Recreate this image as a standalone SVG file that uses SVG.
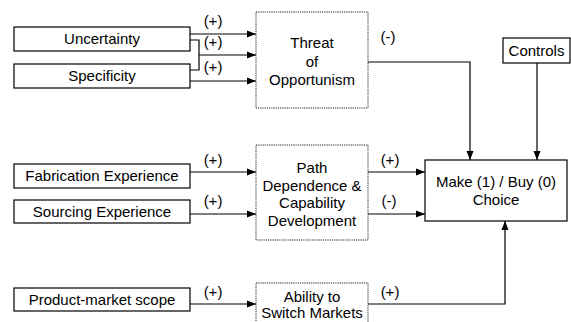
<svg xmlns="http://www.w3.org/2000/svg" width="571" height="322" viewBox="0 0 571 322">
<style>
text{font-family:"Liberation Sans",Arial,sans-serif;font-size:15px;fill:#000;text-anchor:middle}
.box{fill:#fff;stroke:#000;stroke-width:1.2}
.dot{fill:#fff;stroke:#222;stroke-width:1;stroke-dasharray:1.2,1}
.ln{fill:none;stroke:#000;stroke-width:1.2}
.ar{fill:none;stroke:#000;stroke-width:1.2;marker-end:url(#ah)}
.lbl{font-size:15px}
</style>
<defs>
<marker id="ah" markerWidth="9" markerHeight="8" refX="9" refY="4" orient="auto" markerUnits="userSpaceOnUse">
<path d="M0,0.5 L9,4 L0,7.5 Z" fill="#000"/>
</marker>
</defs>
<rect width="571" height="322" fill="#fff"/>
<g id="connectors">
<line class="ar" x1="190" y1="34" x2="256" y2="34"/>
<polyline class="ln" points="190,40 199,40 199,70 190,70"/>
<line class="ar" x1="199" y1="55" x2="256" y2="55"/>
<line class="ar" x1="190" y1="81" x2="256" y2="81"/>
<polyline class="ar" points="368,62 470,62 470,160"/>
<line class="ar" x1="537" y1="63" x2="537" y2="160"/>
<line class="ar" x1="190" y1="172" x2="256" y2="172"/>
<line class="ar" x1="190" y1="214" x2="256" y2="214"/>
<line class="ar" x1="368" y1="172" x2="425" y2="172"/>
<line class="ar" x1="368" y1="214" x2="425" y2="214"/>
<line class="ar" x1="190" y1="304" x2="256" y2="304"/>
<polyline class="ar" points="368,304 505,304 505,221"/>
<text class="lbl" x="213" y="26">(+)</text>
<text class="lbl" x="213" y="47">(+)</text>
<text class="lbl" x="213" y="72">(+)</text>
<text class="lbl" x="388" y="42">(-)</text>
<text class="lbl" x="213" y="165">(+)</text>
<text class="lbl" x="213" y="206">(+)</text>
<text class="lbl" x="390" y="165">(+)</text>
<text class="lbl" x="389" y="206">(-)</text>
<text class="lbl" x="213" y="297">(+)</text>
<text class="lbl" x="390" y="297">(+)</text>
</g>
<g id="uncertainty">
<rect class="box" x="14" y="27" width="176" height="24"/>
<text x="102" y="44">Uncertainty</text>
</g>
<g id="specificity">
<rect class="box" x="14" y="64" width="176" height="24"/>
<text x="102" y="81">Specificity</text>
</g>
<g id="threat">
<rect class="dot" x="256" y="12" width="112" height="96"/>
<text x="312" y="48">Threat</text>
<text x="312" y="67">of</text>
<text x="312" y="85">Opportunism</text>
</g>
<g id="controls">
<rect class="box" x="503" y="38" width="67" height="25"/>
<text x="536.5" y="56">Controls</text>
</g>
<g id="fabrication">
<rect class="box" x="14" y="164" width="176" height="24"/>
<text x="102" y="181">Fabrication Experience</text>
</g>
<g id="sourcing">
<rect class="box" x="14" y="200" width="176" height="23"/>
<text x="102" y="216.5">Sourcing Experience</text>
</g>
<g id="path">
<rect class="dot" x="256" y="145" width="112" height="95"/>
<text x="312" y="173">Path</text>
<text x="312" y="191">Dependence &amp;</text>
<text x="312" y="208">Capability</text>
<text x="312" y="226">Development</text>
</g>
<g id="make">
<rect class="box" x="425" y="160" width="142" height="61"/>
<text x="496" y="187">Make (1) / Buy (0)</text>
<text x="496" y="205">Choice</text>
</g>
<g id="product">
<rect class="box" x="14" y="288" width="176" height="23"/>
<text x="102" y="305">Product-market scope</text>
</g>
<g id="ability">
<rect class="dot" x="256" y="283" width="112" height="50"/>
<text x="312" y="302">Ability to</text>
<text x="312" y="318">Switch Markets</text>
</g>
</svg>
